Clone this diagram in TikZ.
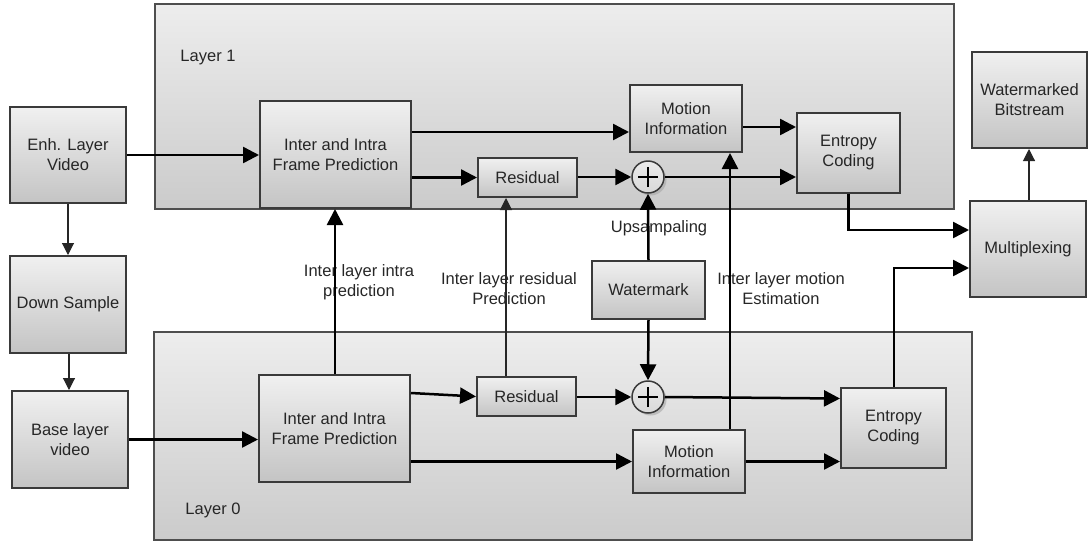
\documentclass[tikz,border=0pt]{standalone}
\usepackage{fontspec}
\setmainfont{Liberation Sans}
\usetikzlibrary{arrows.meta,shadows}
\definecolor{edge}{HTML}{3A3A3A}
\definecolor{ink}{HTML}{262626}
\definecolor{boxtop}{HTML}{F0F0F0}
\definecolor{boxbot}{HTML}{C4C4C4}
\definecolor{laytop}{HTML}{EDEDED}
\definecolor{laybot}{HTML}{CBCBCB}
\begin{document}
\begin{tikzpicture}[x=1pt,y=-1pt,
  font=\fontsize{16.5}{20}\selectfont,
  text=ink,
  block/.style={draw=edge, line width=2pt, top color=boxtop, bottom color=boxbot,
    align=center, inner sep=0pt},
  layer/.style={draw=edge!90, line width=2pt, top color=laytop, bottom color=laybot,
    inner sep=0pt},
  sum/.style={circle, draw=edge, line width=1.5pt, minimum size=32pt, inner sep=0pt,
    top color=white!92!black, bottom color=gray!30,
    drop shadow={shadow xshift=2.5pt, shadow yshift=-2.5pt, fill=gray!70, opacity=0.6}},
  flow/.style={line width=2.5pt, draw=black, -{Triangle[length=16pt,width=16pt]}},
  fine/.style={line width=1.1pt, draw=black!85, -{Triangle[length=12pt,width=12pt]}},
  note/.style={align=center, inner sep=0pt}]

\useasboundingbox (0,0) rectangle (1088,542);

% layer containers
\node[layer, minimum width=799pt, minimum height=205pt] (layer1) at (554.5,106.5) {};
\node[layer, minimum width=818pt, minimum height=208pt] (layer0) at (563,436) {};
\node[note] (lab1) at (208,58) {Layer 1};
\node[note] (lab0) at (213,510) {Layer 0};

% input side
\node[block, minimum width=116pt, minimum height=96pt] (enh) at (68,155) {Enh. Layer\\Video};
\node[block, minimum width=116pt, minimum height=97pt] (down) at (68,304.5) {Down Sample};
\node[block, minimum width=116pt, minimum height=97pt] (base) at (70,439.5) {Base layer\\video};

% enhancement layer
\node[block, minimum width=151pt, minimum height=107pt] (inter1) at (335.5,154.5) {Inter and Intra\\Frame Prediction};
\node[block, minimum width=112pt, minimum height=67pt] (mot1) at (686,118.5) {Motion\\Information};
\node[block, minimum width=99pt, minimum height=39pt] (res1) at (527.5,177.5) {Residual};
\node[sum] (plus1) at (648,177) {};
\node[block, minimum width=103pt, minimum height=80pt] (ent1) at (848.5,153) {Entropy\\Coding};

% base layer
\node[block, minimum width=151pt, minimum height=107pt] (inter0) at (334.5,428.5) {Inter and Intra\\Frame Prediction};
\node[block, minimum width=99pt, minimum height=39pt] (res0) at (526.5,396.5) {Residual};
\node[sum] (plus0) at (648,397) {};
\node[block, minimum width=112pt, minimum height=63pt] (mot0) at (689,461.5) {Motion\\Information};
\node[block, minimum width=105pt, minimum height=80pt] (ent0) at (893.5,428) {Entropy\\Coding};

% watermark and output
\node[block, minimum width=113pt, minimum height=58pt] (water) at (648.5,290) {Watermark};
\node[block, minimum width=116pt, minimum height=96pt] (mux) at (1028,249) {Multiplexing};
\node[block, minimum width=115pt, minimum height=96pt] (wbs) at (1029.5,100) {Watermarked\\Bitstream};

% plus signs inside the adders
\foreach \p in {plus1,plus0}{
  \draw[line width=2.6pt, black] ([xshift=-10pt]\p.center) -- ([xshift=10pt]\p.center);
  \draw[line width=2.6pt, black] ([yshift=-10pt]\p.center) -- ([yshift=10pt]\p.center);
}

% inter-layer labels
\node[note] (lintra) at (359,282) {Inter layer intra\\prediction};
\node[note] (lres) at (509,289) {Inter layer residual\\Prediction};
\node[note] (lup) at (659,228) {Upsampaling};
\node[note] (lmot) at (781,289) {Inter layer motion\\Estimation};

% input chain
\draw[fine] (enh.south) -- (down.north);
\draw[fine] (down.south -| 69,0) -- (base.north -| 69,0);
\draw[flow] (enh.east) -- (enh.east -| inter1.west);
\draw[flow] (base.east) -- (base.east -| inter0.west);

% enhancement layer flow
\draw[flow] (inter1.east |- 0,132) -- (mot1.west |- 0,132);
\draw[flow] (inter1.east |- res1.west) -- (res1.west);
\draw[flow] (res1.east |- plus1.west) -- (plus1.west);
\draw[flow] (plus1.east) -- (plus1.east -| ent1.west);
\draw[flow] (mot1.east |- 0,127) -- (ent1.west |- 0,127);

% base layer flow
\draw[flow] (inter0.east |- 0,393) -- (res0.west);
\draw[flow] (res0.east |- plus0.west) -- (plus0.west);
\draw[flow] (plus0.east) -- (ent0.west |- 0,398.5);
\draw[flow] (inter0.east |- mot0.west) -- (mot0.west);
\draw[flow] (mot0.east) -- (mot0.east -| ent0.west);

% inter-layer prediction paths
\draw[flow] (inter0.north -| 335,0) -- (inter1.south -| 335,0);
\draw[fine] (res0.north -| 506,0) -- (res1.south -| 506,0);
\draw[flow] (mot0.north -| 730,0) -- (mot1.south -| 730,0);
\draw[flow] (water.north) -- (plus1.south);
\draw[flow] (water.south) -- (plus0.north);

% multiplexing and output
\draw[flow] (ent1.south) |- (mux.west |- 0,230);
\draw[flow] (ent0.north -| 894,0) |- (mux.west |- 0,268);
\draw[fine] (mux.north -| 1029,0) -- (wbs.south -| 1029,0);
\end{tikzpicture}
\end{document}
